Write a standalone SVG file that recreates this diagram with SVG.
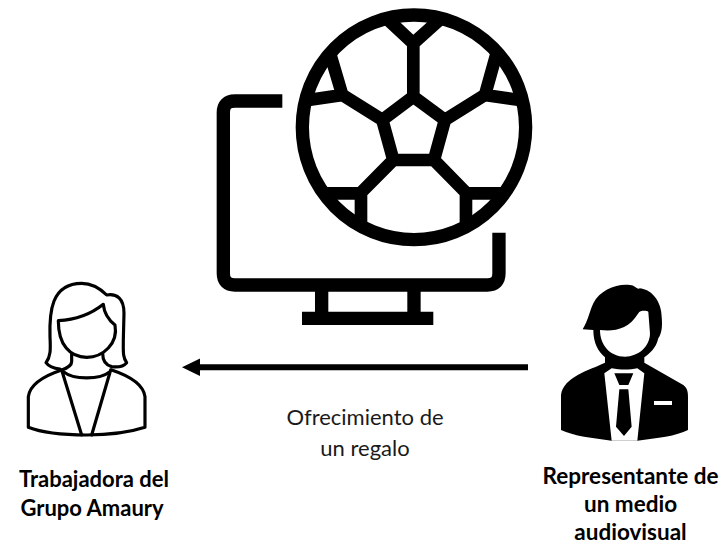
<svg xmlns="http://www.w3.org/2000/svg" width="722" height="545" viewBox="0 0 722 545">
<style>
.t{font-family:"Lato","Noto Sans",sans-serif;font-size:22px;fill:#1a1a1a;text-anchor:middle}
.b{font-weight:700;fill:#000}
.r{font-size:22.5px}
.k{fill:none;stroke:#000;stroke-width:13}
.o{fill:none;stroke:#000;stroke-width:9.5;stroke-linejoin:round;stroke-linecap:round}
</style>
<defs><marker id="ah" markerUnits="userSpaceOnUse" markerWidth="18" markerHeight="18" refX="0" refY="9" orient="auto"><path d="M18,9 L0,0.3 L0,17.7 Z" fill="#000"/></marker></defs>
<rect width="722" height="545" fill="#fff"/>
<g id="monitor" transform="translate(210,0) scale(.3333)">
<path class="k" style="stroke-width:40" d="M217,303 H75 Q40,303 40,338 V820 Q40,855 75,855 H832 Q867,855 867,820 V698"/>
<path class="k" style="stroke-width:40" d="M335,855 V955 M612,855 V955 M276,955 H670"/>
</g>
<g id="ball" transform="translate(210,0) scale(.3333)">
<ellipse class="k" style="stroke-width:40" cx="612" cy="382" rx="335" ry="337"/>
<path class="k" style="stroke-width:38;stroke-linejoin:miter" d="M610,290 L705,360 L672,480 H550 L517,360 Z M610,290 V115 M535,60 L610,130 L688,60 M705,360 L825,285 M860,160 L825,285 L930,300 M517,360 L397,285 M360,160 L397,285 L295,300 M550,480 L453,578 M345,580 H453 V668 M672,480 L768,578 M880,580 H768 V668"/>
</g>
<g id="trabajadora" transform="translate(10,270) scale(.3333)">
<path class="o" d="M150,297 C130,295 115,288 108,278 C122,260 122,240 120,200 C118,130 122,40 215,40 C250,40 275,60 290,75 C320,70 342,85 342,130 L340,210 C340,245 338,262 350,278 C340,290 320,292 305,290 C285,285 278,270 278,250"/>
<path class="o" d="M145,152 C190,150 240,135 280,103 C282,125 290,145 315,165 C325,220 280,262 230,262 C180,262 145,225 145,152 Z"/>
<path class="o" d="M185,250 L185,275 C185,285 170,295 155,300 C110,315 60,340 55,380 L55,472 C100,490 170,495 230,495 C290,495 350,490 405,472 L405,380 C400,340 350,315 305,300"/>
<path class="o" d="M155,300 L215,495 M302,300 L245,495 M160,305 C190,330 270,330 300,305"/>
</g>
<g id="representante" transform="translate(550,270) scale(.3333)">
<path fill="#000" d="M98,178 C115,150 120,120 130,100 C150,60 200,40 240,45 C255,45 260,60 270,55 C310,60 335,100 335,140 C338,170 335,190 325,205 C318,235 300,250 283,262 L283,278 L400,345 C412,355 414,365 414,380 L414,480 C380,498 320,505 262,512 L185,512 C130,505 70,498 33,480 L33,375 C40,320 120,300 165,278 L165,262 C145,245 130,220 130,180 Z"/>
<path fill="#fff" d="M150,180 C190,185 235,180 265,130 C270,120 290,122 295,125 L300,190 C300,230 265,260 225,260 C180,260 150,225 150,180 Z"/>
<path fill="#fff" d="M163,310 L185,295 C210,300 240,300 262,295 L283,310 L262,512 L185,512 Z"/>
<path fill="#000" d="M193,310 H250 L235,345 H208 Z M208,358 H235 L245,470 L222,498 L198,470 Z"/>
<rect x="312" y="393" width="54" height="12" fill="#fff"/>
</g>
<g id="connectors"><line x1="528" y1="367.3" x2="200" y2="367.3" stroke="#000" stroke-width="6" marker-end="url(#ah)"/></g>
<g id="labels">
<text class="t" x="365" y="425">Ofrecimiento de</text>
<text class="t" x="365" y="456">un regalo</text>
<text class="t b" x="94" y="487">Trabajadora del</text>
<text class="t b" x="92" y="516">Grupo Amaury</text>
<text class="t b r" x="630.5" y="484">Representante de</text>
<text class="t b r" x="630.5" y="512">un medio</text>
<text class="t b r" x="630.5" y="539.5">audiovisual</text>
</g>
</svg>
